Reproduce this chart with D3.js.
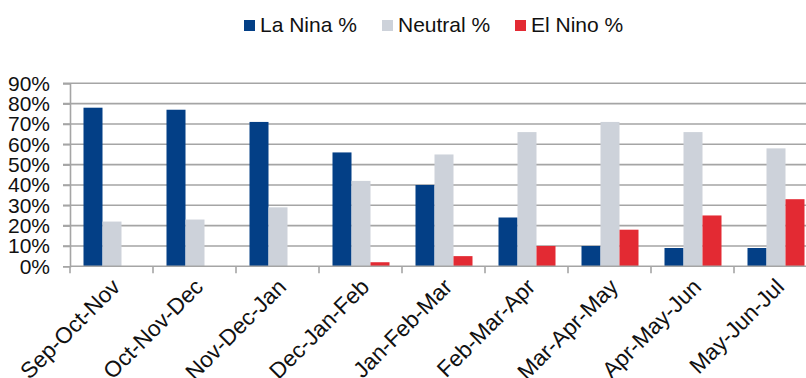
<!DOCTYPE html>
<html>
<head>
<meta charset="utf-8">
<script src="https://cdn.jsdelivr.net/npm/d3@7/dist/d3.min.js"></script>
<style>
  html, body { margin: 0; padding: 0; background: #fff; }
  svg { display: block; font-family: "Liberation Sans", Arial, sans-serif; }
</style>
</head>
<body>
<svg id="chart" width="806" height="378"></svg>
<script>
// ENSO outlook probabilities by overlapping 3-month season
const seasons = ["Sep-Oct-Nov", "Oct-Nov-Dec", "Nov-Dec-Jan", "Dec-Jan-Feb", "Jan-Feb-Mar",
                 "Feb-Mar-Apr", "Mar-Apr-May", "Apr-May-Jun", "May-Jun-Jul"];
const laNina  = [78, 77, 71, 56, 40, 24, 10, 9, 9];
const neutral = [22, 23, 29, 42, 55, 66, 71, 66, 58];
const elNino  = [0, 0, 0, 2, 5, 10, 18, 25, 33];
const seriesNames = ["La Nina %", "Neutral %", "El Nino %"];
const seriesColors = ["#033f86", "#cdd2da", "#e32a33"];
const yTicks = [0, 10, 20, 30, 40, 50, 60, 70, 80, 90];

const seriesValues = [laNina, neutral, elNino];
const rows = seasons.map((s, i) => ({ season: s, values: seriesValues.map(v => v[i]) }));

const svg = d3.select("#chart");
const plot = { left: 70, right: 817, top: 83.3, bottom: 266.3 };

const x = d3.scaleBand().domain(seasons).range([plot.left, plot.right]).padding(0);
const xSub = d3.scaleBand().domain(d3.range(3)).range([13.5, 70.5]).padding(0);
const y = d3.scaleLinear().domain([0, 90]).range([plot.bottom, plot.top]);

// horizontal gridlines
svg.append("g")
  .selectAll("line")
  .data(yTicks.filter(t => t > 0))
  .join("line")
  .attr("x1", plot.left - 7)
  .attr("x2", plot.right)
  .attr("y1", d => y(d))
  .attr("y2", d => y(d))
  .attr("stroke", "#a5a5a5")
  .attr("stroke-width", 1.6);

// y axis
const yAxis = svg.append("g")
  .attr("transform", `translate(${plot.left},0)`)
  .call(d3.axisLeft(y).tickValues(yTicks).tickFormat(d => d + "%").tickSize(7).tickPadding(13));
yAxis.select(".domain").attr("stroke", "#a5a5a5").attr("stroke-width", 1.6);
yAxis.selectAll(".tick line").attr("stroke", "#a5a5a5").attr("stroke-width", 1.6);
yAxis.selectAll(".tick text")
  .attr("font-size", 21)
  .attr("fill", "#111")
  .attr("font-family", "Liberation Sans, Arial, sans-serif");

// bars
const groups = svg.append("g")
  .selectAll("g")
  .data(rows)
  .join("g")
  .attr("transform", d => `translate(${x(d.season)},0)`);

groups.selectAll("rect")
  .data(d => d.values.map((v, k) => ({ k, v })))
  .join("rect")
  .attr("x", d => xSub(d.k))
  .attr("width", xSub.bandwidth())
  .attr("y", d => y(d.v))
  .attr("height", d => y(0) - y(d.v))
  .attr("fill", d => seriesColors[d.k]);

// x axis with ticks at category boundaries
const xAxisG = svg.append("g").attr("transform", `translate(0,${plot.bottom})`);
xAxisG.append("line")
  .attr("x1", plot.left).attr("x2", plot.right)
  .attr("y1", 0).attr("y2", 0)
  .attr("stroke", "#a5a5a5").attr("stroke-width", 1.6);
xAxisG.selectAll("line.tick")
  .data(seasons.concat(["__end"]))
  .join("line")
  .attr("class", "tick")
  .attr("x1", (d, i) => plot.left + i * x.bandwidth())
  .attr("x2", (d, i) => plot.left + i * x.bandwidth())
  .attr("y1", 0).attr("y2", 7)
  .attr("stroke", "#a5a5a5").attr("stroke-width", 1.6);
xAxisG.selectAll("text")
  .data(seasons)
  .join("text")
  .attr("text-anchor", "end")
  .attr("font-size", 22.5)
  .attr("fill", "#111")
  .attr("transform", d => `translate(${x(d) + x.bandwidth() / 2 + 10},${22}) rotate(-45)`)
  .text(d => d);

// legend
const legendX = [244, 382, 515];
const legend = svg.append("g");
seriesNames.forEach((name, k) => {
  legend.append("rect")
    .attr("x", legendX[k]).attr("y", 20)
    .attr("width", 11).attr("height", 11)
    .attr("fill", seriesColors[k]);
  legend.append("text")
    .attr("x", legendX[k] + 16).attr("y", 31.5)
    .attr("font-size", 21)
    .attr("fill", "#111")
    .text(name);
});
</script>
</body>
</html>
